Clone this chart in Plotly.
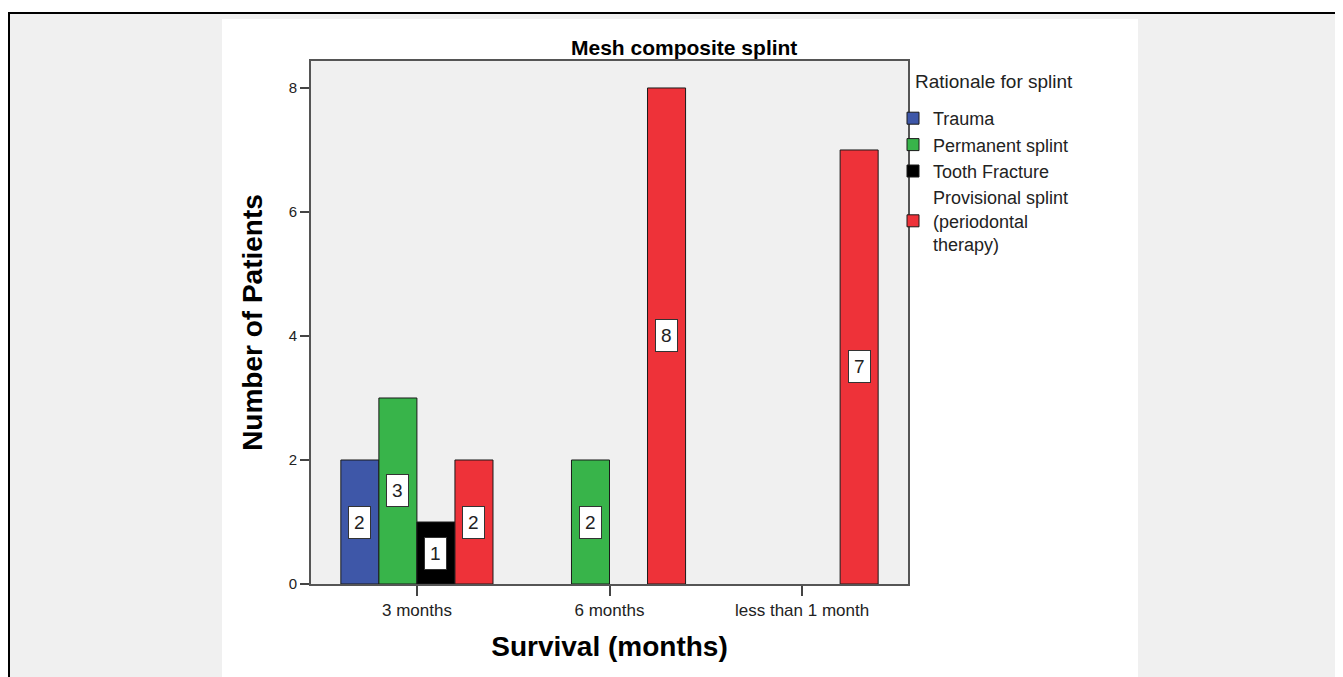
import plotly.graph_objects as go

# ---- data ----
categories = ["3 months", "6 months", "less than 1 month"]
series_names = ["Trauma", "Permanent splint", "Tooth Fracture",
                "Provisional splint<br>(periodontal<br>therapy)"]
trauma = [2, 0, 0]
permanent = [3, 2, 0]
tooth_fracture = [1, 0, 0]
provisional = [2, 8, 7]
series_values = [trauma, permanent, tooth_fracture, provisional]
colors = ["#3e57a8", "#38b44a", "#000000", "#ee3239"]

title_text = "Mesh composite splint"
x_title = "Survival (months)"
y_title = "Number of Patients"
legend_title = "Rationale for splint"

# ---- layout geometry (page pixels; the page body adds an 8px offset) ----
OFF = 8
W, H = 1343 - OFF, 677 - OFF
L, R, T, B = 311 - OFF, 908 - OFF, 61 - OFF, 584 - OFF
PW, PH = R - L, B - T
BARGAP = 0.21
FONT = "Arial, Liberation Sans, sans-serif"


def px(x):
    return (x - OFF - L) / PW


def py(y):
    return (B - (y - OFF)) / PH


fig = go.Figure()
for name, vals, col in zip(series_names, series_values, colors):
    fig.add_trace(go.Bar(
        x=categories, y=[v if v else None for v in vals], name=name,
        marker=dict(color=col, line=dict(color="#1a1a1a", width=1)),
    ))

# value labels in white boxes at bar centres
n = len(series_values)
w = (1 - BARGAP) / n
annotations = []
for j, vals in enumerate(series_values):
    for i, v in enumerate(vals):
        if v:
            annotations.append(dict(
                x=i + (j - (n - 1) / 2) * w, y=v / 2, xref="x", yref="y",
                text=str(v), showarrow=False,
                font=dict(family=FONT, size=19, color="#222"),
                bgcolor="white", bordercolor="#333", borderwidth=1, borderpad=5,
            ))

annotations.append(dict(
    x=px(684), y=py(47), xref="paper", yref="paper", xanchor="center", yanchor="middle",
    text="<b>" + title_text + "</b>", showarrow=False,
    font=dict(family=FONT, size=21, color="#000"),
))
annotations.append(dict(
    x=px(913), y=py(82), xref="paper", yref="paper", xanchor="left", yanchor="middle",
    text=legend_title, showarrow=False,
    font=dict(family=FONT, size=19, color="#222"),
))

gray = "#f0f0f0"
shapes = [
    dict(type="rect", xref="paper", yref="paper", x0=px(10), x1=px(222), y0=py(14), y1=py(700),
         fillcolor=gray, line=dict(width=0), layer="below"),
    dict(type="rect", xref="paper", yref="paper", x0=px(1138), x1=px(1360), y0=py(14), y1=py(700),
         fillcolor=gray, line=dict(width=0), layer="below"),
    dict(type="rect", xref="paper", yref="paper", x0=px(222), x1=px(1138), y0=py(14), y1=py(19),
         fillcolor=gray, line=dict(width=0), layer="below"),
    dict(type="rect", xref="paper", yref="paper", x0=px(8), x1=px(1360), y0=py(12), y1=py(14),
         fillcolor="#000", line=dict(width=0), layer="below"),
    dict(type="rect", xref="paper", yref="paper", x0=px(8), x1=px(10), y0=py(12), y1=py(700),
         fillcolor="#000", line=dict(width=0), layer="below"),
]

fig.update_layout(
    width=W, height=H,
    margin=dict(l=L, r=W - R, t=T, b=H - B, autoexpand=False),
    paper_bgcolor="white", plot_bgcolor="#f0f0f0",
    barmode="group", bargap=BARGAP, bargroupgap=0,
    font=dict(family=FONT, color="#222"),
    showlegend=True,
    legend=dict(x=px(893), y=py(100), xanchor="left", yanchor="top",
                bgcolor="rgba(0,0,0,0)", font=dict(family=FONT, size=18, color="#222"),
                itemclick=False, itemdoubleclick=False, valign="middle"),
    annotations=annotations, shapes=shapes,
)
fig.update_xaxes(
    type="category", range=[-0.55, 2.55],
    showline=True, mirror=True, linecolor="#555", linewidth=2,
    ticks="outside", ticklen=10, tickwidth=2, tickcolor="#444",
    tickfont=dict(family=FONT, size=17, color="#222"),
    showgrid=False, zeroline=False,
    title=dict(text="<b>" + x_title + "</b>", standoff=17,
               font=dict(family=FONT, size=28, color="#000")),
)
fig.update_yaxes(
    range=[0, 8.435], tickvals=[0, 2, 4, 6, 8],
    showline=True, mirror=True, linecolor="#555", linewidth=2,
    ticks="outside", ticklen=9, tickwidth=2, tickcolor="#444",
    tickfont=dict(family=FONT, size=15, color="#222"),
    showgrid=False, zeroline=False,
    title=dict(text="<b>" + y_title + "</b>", standoff=18,
               font=dict(family=FONT, size=28, color="#000")),
)

fig.write_html("out.html")
